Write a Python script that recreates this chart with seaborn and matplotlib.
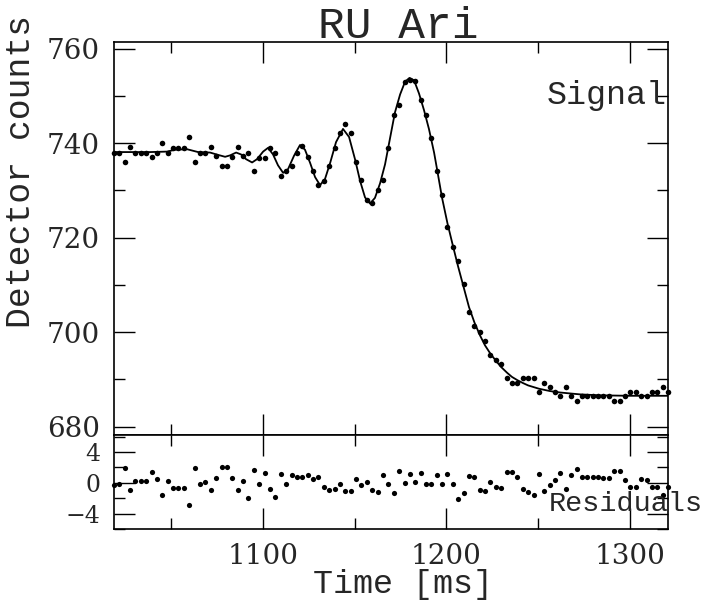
import matplotlib
matplotlib.use("Agg")
import matplotlib.pyplot as plt
from matplotlib.ticker import MultipleLocator
import seaborn as sns

# sample times [ms]
time_ms = [1019.0, 1021.9, 1024.9, 1027.8, 1030.7, 1033.6, 1036.6, 1039.5, 1042.4, 1045.4,
           1048.3, 1051.2, 1054.1, 1057.1, 1060.0, 1062.9, 1065.9, 1068.8, 1071.7, 1074.7,
           1077.6, 1080.5, 1083.4, 1086.4, 1089.3, 1092.2, 1095.2, 1098.1, 1101.0, 1103.9,
           1106.9, 1109.8, 1112.7, 1115.7, 1118.6, 1121.5, 1124.4, 1127.4, 1130.3, 1133.2,
           1136.2, 1139.1, 1142.0, 1144.9, 1147.9, 1150.8, 1153.7, 1156.7, 1159.6, 1162.5,
           1165.5, 1168.4, 1171.3, 1174.2, 1177.2, 1180.1, 1183.0, 1186.0, 1188.9, 1191.8,
           1194.7, 1197.7, 1200.6, 1203.5, 1206.5, 1209.4, 1212.3, 1215.2, 1218.2, 1221.1,
           1224.0, 1227.0, 1229.9, 1232.8, 1235.7, 1238.7, 1241.6, 1244.5, 1247.5, 1250.4,
           1253.3, 1256.2, 1259.2, 1262.1, 1265.0, 1268.0, 1270.9, 1273.8, 1276.8, 1279.7,
           1282.6, 1285.5, 1288.5, 1291.4, 1294.3, 1297.3, 1300.2, 1303.1, 1306.0, 1309.0,
           1311.9, 1314.8, 1317.8, 1320.7]

# detector counts
counts = [738.0, 738.0, 736.0, 739.1, 738.0, 738.0, 738.0, 737.1, 738.0, 740.1,
          738.0, 738.9, 738.9, 738.9, 741.2, 736.0, 738.0, 738.0, 739.1, 737.2,
          735.2, 735.2, 737.1, 739.1, 737.2, 738.0, 734.1, 736.9, 736.9, 738.9,
          738.0, 733.1, 734.1, 735.1, 738.0, 739.4, 737.0, 734.1, 731.2, 732.0,
          735.1, 738.9, 742.1, 744.0, 742.1, 735.9, 732.2, 728.0, 727.3, 730.0,
          732.2, 738.9, 745.9, 748.0, 752.9, 753.3, 753.1, 749.1, 745.9, 741.1,
          734.0, 729.0, 722.3, 718.1, 715.1, 710.1, 704.3, 701.2, 700.1, 698.2,
          695.2, 694.1, 693.2, 690.2, 689.2, 689.2, 690.2, 690.2, 690.2, 687.4,
          689.2, 688.3, 687.4, 686.4, 688.3, 686.4, 685.3, 686.4, 686.4, 686.4,
          686.4, 686.4, 686.4, 685.3, 685.3, 686.4, 687.4, 687.4, 686.4, 686.4,
          687.4, 687.4, 688.3, 687.4]

# residuals
residuals = [-0.35, -0.2, 1.9, -1.0, 0.2, 0.2, 0.2, 1.4, 0.5, -1.6,
             0.2, -0.7, -0.7, -0.7, -2.9, 1.9, -0.1, 0.05, -1.0, 0.65,
             2.0, 2.0, 0.65, -1.0, 0.2, -2.0, 1.7, -0.2, 1.3, -0.8,
             -1.8, 1.1, -0.1, 1.0, 0.7, 0.7, 1.0, 0.5, 0.7, -0.6,
             -1.0, -0.8, -0.2, -1.1, -1.1, 0.5, -0.3, 0.05, -0.9, -1.2,
             1.0, -0.2, -1.35, 1.55, -0.05, 1.1, 0.05, 1.25, -0.1, -0.2,
             1.0, -0.1, 1.1, -0.2, -2.1, -1.35, 0.9, 0.75, -0.9, -1.1,
             0.1, -0.5, -0.7, 1.35, 1.45, 0.8, -0.8, -1.25, -1.55, 1.1,
             -1.1, -0.35, 0.4, 1.25, -0.8, 0.95, 1.85, 0.8, 0.75, 0.75,
             0.75, 0.6, 0.6, 1.5, 1.5, 0.3, -0.5, -0.5, 0.5, 0.4,
             -0.6, -0.6, -1.55, -0.6]

# fitted model curve
fit_time = [1019.0, 1038.6, 1047.9, 1052.2, 1058.8, 1064.8, 1071.3, 1075.7, 1079.5, 1082.2,
            1085.5, 1088.2, 1090.9, 1094.2, 1096.9, 1100.2, 1102.9, 1105.6, 1108.3, 1111.1,
            1113.8, 1117.0, 1120.3, 1123.0, 1125.8, 1128.5, 1131.2, 1133.9, 1136.7, 1139.9,
            1143.7, 1147.0, 1150.3, 1153.0, 1155.7, 1158.4, 1161.1, 1163.9, 1166.6, 1169.3,
            1172.0, 1174.8, 1177.5, 1179.9, 1182.4, 1185.1, 1187.8, 1190.5, 1193.3, 1194.9,
            1197.6, 1200.6, 1203.6, 1206.3, 1209.4, 1212.3, 1215.3, 1218.3, 1221.0, 1224.0,
            1227.0, 1229.8, 1233.0, 1235.7, 1238.7, 1241.7, 1244.5, 1250.4, 1256.4, 1261.9,
            1272.8, 1283.7, 1300.0, 1320.7]
fit_counts = [738.1, 738.1, 738.2, 738.6, 738.7, 738.1, 738.0, 737.5, 737.1, 737.4,
              738.0, 737.6, 736.6, 735.9, 736.6, 738.2, 739.0, 737.6, 735.3, 733.7,
              734.5, 737.3, 739.6, 738.6, 735.8, 732.8, 731.1, 732.4, 735.8, 740.2,
              743.0, 741.3, 736.5, 732.0, 728.5, 727.2, 728.4, 731.5, 735.5, 741.0,
              746.5, 750.3, 753.0, 753.8, 753.3, 750.5, 747.0, 743.0, 738.0, 734.5,
              728.5, 723.0, 718.2, 714.0, 709.5, 705.3, 702.0, 699.3, 697.2, 695.4,
              693.9, 692.6, 691.4, 690.5, 689.8, 689.2, 688.7, 688.0, 687.5, 687.2,
              686.8, 686.6, 686.5, 686.5]

sns.set_style("ticks")
plt.rcParams["font.family"] = ["Liberation Mono", "DejaVu Sans"]

fig = plt.figure(figsize=(7.02, 6.01), dpi=100)
ax_top = fig.add_axes([0.1624, 0.2762, 0.7892, 0.6531])
ax_res = fig.add_axes([0.1624, 0.1198, 0.7892, 0.1564])

sns.lineplot(x=fit_time, y=fit_counts, ax=ax_top, color="black", linewidth=1.3,
             estimator=None, sort=False)
sns.scatterplot(x=time_ms, y=counts, ax=ax_top, color="black", s=16, linewidth=0,
                clip_on=False, zorder=3)
sns.scatterplot(x=time_ms, y=residuals, ax=ax_res, color="black", s=14, linewidth=0,
                clip_on=False, zorder=3)

for ax in (ax_top, ax_res):
    ax.set_xlim(1019.0, 1320.7)
    ax.xaxis.set_major_locator(MultipleLocator(100))
    ax.xaxis.set_minor_locator(MultipleLocator(50))
    ax.tick_params(which="both", direction="in", top=True, right=True,
                   width=1.0, color="black", labelsize=20,
                   labelfontfamily="DejaVu Serif")
    ax.tick_params(which="major", length=14.9, pad=10)
    ax.tick_params(which="minor", length=7.7)
    ax.tick_params(axis="y", pad=10)
    for s in ax.spines.values():
        s.set_linewidth(1.2)
        s.set_color("black")
    ax.set_xlabel("")
    ax.set_ylabel("")

ax_top.set_ylim(678.2, 761.3)
ax_top.yaxis.set_major_locator(MultipleLocator(20))
ax_top.yaxis.set_minor_locator(MultipleLocator(10))
ax_top.tick_params(labelbottom=False)

ax_res.set_ylim(-6.0, 6.2)
ax_res.yaxis.set_major_locator(MultipleLocator(4))
ax_res.yaxis.set_minor_locator(MultipleLocator(2))
ax_res.tick_params(axis="y", labelsize=17)

ax_top.text(1254.8, 750, "Signal", fontsize=24, ha="left", va="center")
ax_res.text(1255.6, -3.64, "Residuals", fontsize=20.5, ha="left", va="baseline")

fig.text(0.567, 0.9368, "RU Ari", fontsize=32, ha="center", va="baseline")
fig.text(0.574, 0.014, "Time [ms]", fontsize=24, ha="center", va="baseline")
fig.text(0.0285, 0.714, "Detector counts", fontsize=25, rotation=90,
         ha="center", va="center")

fig.savefig("out.png", dpi=100)
